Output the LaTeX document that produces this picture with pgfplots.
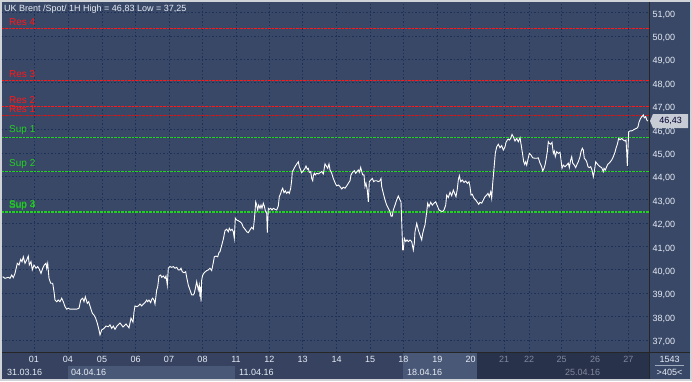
\documentclass[border=0pt]{standalone}
\usepackage{fontspec}
\setmainfont{Liberation Sans}
\usepackage{pgfplots}
\pgfplotsset{compat=1.18}
\definecolor{framec}{HTML}{D0D3D8}
\definecolor{plotbg}{HTML}{3A4867}
\definecolor{gridc}{HTML}{1C3158}
\definecolor{rowbg}{HTML}{36425F}
\definecolor{weekhl}{HTML}{4A5877}
\definecolor{future}{HTML}{29324B}
\definecolor{labeltext}{HTML}{E6ECF5}
\definecolor{dimtext}{HTML}{7F889C}
\definecolor{resred}{HTML}{FF1818}
\definecolor{supgreen}{HTML}{22D022}
\definecolor{pricebox}{HTML}{C8CCD4}
\begin{document}
\begin{tikzpicture}
\useasboundingbox (0pt,0pt) rectangle (692pt,381pt);
\fill[framec] (0pt,0pt) rectangle (692pt,381pt);
\fill[rowbg] (2pt,2pt) rectangle (649pt,29pt);
\fill[weekhl] (68pt,2pt) rectangle (235pt,15pt);
\fill[weekhl] (403pt,2pt) rectangle (477pt,29pt);
\fill[future] (477pt,2pt) rectangle (649pt,29pt);
\fill[plotbg] (649pt,2pt) rectangle (690pt,379pt);
\begin{axis}[
  at={(2pt,29pt)}, anchor=south west,
  width=647pt, height=350pt, scale only axis,
  xmin=2, xmax=649, ymin=36.49, ymax=51.45,
  axis background/.style={fill=plotbg},
  axis line style={draw=none},
  major tick length=0pt,
  grid=major,
  major grid style={gridc, dash pattern=on 1.5pt off 2pt, line width=0.8pt},
  xtick={34,68,102,135.7,169,202.5,236,269.3,302.7,336.7,370,403.3,437.3,470.7},
  xticklabels={01,04,05,06,07,08,11,12,13,14,15,18,19,20},
  extra x ticks={504,529,561.7,595,628.3},
  extra x tick labels={21,22,25,26,27},
  extra x tick style={grid=major, xticklabel style={text=dimtext}},
  xticklabel style={font=\fontsize{9}{9}\selectfont, text=labeltext, anchor=center, yshift=-7pt},
  ytick={37,38,...,51},
  yticklabel pos=right,
  yticklabel style={font=\fontsize{9}{9}\selectfont, text=labeltext, anchor=west, yshift=-2pt,
    /pgf/number format/.cd, fixed, fixed zerofill, precision=2, use comma, 1000 sep={}, assume math mode=true},
  clip=true,
]
% resistance / support levels
\addplot[resred, dash pattern=on 2.5pt off 1pt, line width=1.3pt] coordinates {(2,50.317) (649,50.317)};
\addplot[resred, dash pattern=on 2.5pt off 1pt, line width=1.3pt] coordinates {(2,48.095) (649,48.095)};
\addplot[resred, dash pattern=on 2.5pt off 1pt, line width=1.3pt] coordinates {(2,46.983) (649,46.983)};
\addplot[resred!85!black, dash pattern=on 2.5pt off 1pt, line width=1.1pt] coordinates {(2,46.599) (649,46.599)};
\addplot[supgreen, dash pattern=on 2.5pt off 1pt, line width=1.3pt] coordinates {(2,45.658) (649,45.658)};
\addplot[supgreen, dash pattern=on 2.5pt off 1pt, line width=1.3pt] coordinates {(2,44.205) (649,44.205)};
\addplot[supgreen, dash pattern=on 2.5pt off 1pt, line width=1.3pt] coordinates {(2,42.496) (649,42.496)};
\addplot[supgreen, dash pattern=on 2.5pt off 1pt, line width=1.3pt] coordinates {(2,42.440) (649,42.440)};
% price
\addplot[white, line width=0.9pt] coordinates {
(2.7,39.71) (5,39.64) (8.3,39.68) (10,39.64) (11.7,39.78) (13.3,39.67) (15,39.85) (17.3,40.28) (19,40.21) (20.7,40.45) (22,40.35) (23.3,40.56) (25,40.28) (26.7,40.42) (28.3,40.59) (29.3,40.21) (31,40.35) (32.3,40.00) (34,40.21) (36,40.07) (37.7,40.14) (39.3,40.03) (41,39.85) (42.7,40.07) (44.3,40.21) (46,40.28) (46.7,40.07) (47.7,40.28) (49,39.64) (50.7,39.43) (52.7,39.43) (54,39.07) (55,38.71) (56.7,38.64) (58.3,38.71) (60,38.64) (61.7,38.79) (63.3,38.64) (65,38.43) (66.7,38.32) (68.3,38.36) (70,38.32) (73.3,38.32) (76.7,38.32) (79,38.36) (80.7,38.71) (82.7,38.79) (84,38.64) (85.3,38.85) (87.3,38.57) (88.7,38.64) (90.7,38.36) (92.3,38.15) (94,38.07) (95.7,37.93) (97.3,37.72) (99,37.43) (100,37.22) (101.7,37.43) (104,37.50) (106,37.60) (108.3,37.57) (110,37.65) (111.7,37.50) (113.3,37.60) (115,37.46)
(117,37.60) (120,37.73) (123,37.56) (126,37.69) (129,37.52) (131,37.94) (133,37.77) (134,38.20)
(135,38.46) (136.7,38.43) (138.3,38.46) (140,38.54) (141.7,38.46) (143.3,38.54) (145,38.60) (146.7,38.71) (147.7,38.64) (149,38.71) (150.7,38.60) (151.7,38.74) (152.7,38.79) (154,38.71) (155,38.54) (155.7,38.79) (156.7,39.14) (157.7,39.28) (159,39.74) (160.7,39.78) (161.7,39.68) (163.3,39.74) (165,39.64) (166,39.74) (167.3,39.35) (168.3,40.07) (170,40.14) (171.7,40.11) (173.3,40.14) (175,40.07) (176.7,40.11) (178.3,40.00) (180,40.00) (181,40.07) (182.3,39.92) (184,39.88) (185.7,39.92) (186.7,39.68) (188.3,39.35) (190,39.14) (191.7,38.93) (193.3,38.93) (194.3,39.00) (195.7,39.28) (196.7,39.50) (198.3,39.14) (199.3,39.35) (200,38.85) (200.7,39.28) (201,38.64) (201.7,39.57) (202.7,39.78) (204.3,39.88) (206.7,39.97) (208.3,40.00) (210,40.07) (211.7,39.97) (213.3,40.31) (214.3,40.56) (216,40.59) (217.7,40.56) (219,40.74) (220,40.78)
(223.3,41.31) (225,41.68) (226.7,41.74) (228.3,41.63) (229.3,41.78) (230.7,41.68) (232,41.74) (233.3,41.63) (234.3,41.35) (235.3,42.21) (236.7,42.13) (238.3,42.10) (240,42.06) (241.7,41.99) (243.3,41.82) (245,41.74) (246.7,41.63) (248.3,41.59) (250,41.71) (251.7,41.82) (253.3,41.74) (254.3,42.13) (255,42.49) (255.7,42.91) (256.7,42.77) (257.7,42.56) (258.7,42.77) (260,42.63) (261,42.77) (262,42.63) (263.3,42.85) (264.3,42.73) (265.3,42.53) (266.7,42.42) (267.3,41.59) (268.3,42.63) (269.3,42.59) (270.7,42.63) (272,42.56) (273.3,42.63) (275,42.59) (276.7,42.56) (278.3,42.73) (279.3,43.13) (280.7,43.27) (281.7,43.41) (282.7,43.49) (284,43.30) (285.3,43.38) (286.7,43.27) (288,43.34) (289.3,43.27) (290.7,43.49) (291.7,43.84) (292.3,44.20) (293.3,44.27) (295,44.41) (296,44.48) (297.3,44.56) (298.3,44.62) (299.3,44.41) (300.7,44.27) (301.7,44.15) (303.3,44.24) (305,44.34) (306,44.44) (307.3,44.30) (308.3,44.34) (309.3,44.17) (310.7,44.20) (311.7,43.91) (312.7,43.81) (313.3,44.01) (314.3,44.13) (315.3,44.06) (316.7,44.13) (318.3,44.10) (320,44.15) (321.7,44.20)
(323.3,44.10) (325,44.53) (326.7,44.41) (327.7,44.34) (329,44.53) (330,44.27) (331.7,44.13) (333.3,43.91) (335,43.73) (336.7,43.59) (338.3,43.63) (340,43.56) (341.7,43.46) (343.3,43.53) (345,43.49) (346.7,43.59) (348.3,43.70) (350,43.81) (351,44.06) (352.3,44.15) (354.3,44.24) (355.7,44.13) (357,44.20) (358.3,44.27) (359.3,44.17) (360.7,44.38) (361.7,44.20) (362.7,44.06) (364,44.06) (365,43.56) (366,43.70) (367.3,43.41) (368.3,42.91) (369.3,43.77) (370.7,43.84) (372.3,43.91) (373.7,43.77) (375,43.81) (376.7,43.81) (378.3,43.77) (380,43.81) (381,43.91) (381.7,43.56) (383.3,43.27) (385,42.99) (386.7,42.77) (388.3,42.63) (390,42.49) (391,42.30) (392.3,42.30) (393.3,42.56) (395,42.77) (396.7,42.99) (398.3,43.16) (400,42.99) (401,42.91) (402.7,40.85) (403.3,40.85) (404.3,41.35) (405.7,41.21) (407,41.28) (408.3,41.21) (410,41.28) (411.7,41.21) (413.3,40.85) (414.3,41.14) (415,41.63) (416.7,41.99) (418.3,41.71) (420,41.49) (421.7,41.28) (422.7,41.56) (424,41.78) (425,41.92) (426.7,42.49) (427.7,42.85)
(429,42.70) (430.7,42.89) (432.3,42.77) (434,42.85) (435.7,42.91) (437.3,42.74) (439,42.56) (440.7,42.52) (442.3,42.49) (444,42.56) (445.7,42.77) (446.7,43.20) (448.3,43.09) (450,43.32) (451.7,43.17) (453.3,43.41) (455,43.23) (456,43.13) (457.3,43.46) (458.3,43.84) (459.3,44.03) (460.7,43.77) (462.3,43.84) (464,43.74) (465.7,43.80) (467.3,43.70) (469,43.77) (470,43.56) (471,43.20) (472.3,43.23) (474,43.06) (475.7,42.99) (477.3,42.89) (478.7,42.80) (480,42.89) (481.7,42.85) (483.3,42.99) (485,43.13) (486.7,43.20) (488,43.27) (489.3,43.13) (490.7,43.34) (491.7,43.06) (492.7,43.70) (494,44.34) (495.3,44.98) (496.7,45.26) (498.3,45.37) (500,45.22) (501.7,45.31) (503.3,45.12) (505,45.26) (506,45.45) (507.3,45.55) (508.3,45.59) (509.3,45.55) (510.7,45.62) (512,45.79) (513.3,45.69) (515,45.51) (516.7,45.62) (518.3,45.48) (520,45.65) (521.7,45.20) (522.7,44.91) (523.7,44.62) (524.7,44.51) (525.7,44.62) (526.7,44.48) (528.3,44.79) (529.3,44.98) (531,44.91) (532.7,44.79) (535,44.77)
(536.7,44.77) (538.3,44.79) (540,44.56) (541.7,44.41) (542.7,44.23) (544,44.34) (545,44.48) (546,44.70) (547.3,45.05) (548.3,45.48) (549.3,45.41) (550.7,45.37) (552,45.45) (553.3,44.98) (554.3,45.08) (555.3,44.84) (556.7,45.05) (558.3,44.98) (560,45.03) (561,44.70) (562,44.34) (563.3,44.48) (565,44.41) (566.7,44.48) (568.3,44.56) (569.3,44.37) (570.7,44.70) (571.7,44.84) (572.7,44.56) (574.3,44.48) (575.7,44.37) (576.7,44.48) (578.3,44.62) (580,44.84) (581,45.05) (582.3,45.20) (583.3,45.12) (584.3,44.77) (585.7,44.70) (586.7,44.62) (588,44.41) (589.3,44.37) (590.7,44.41) (592,44.27) (593.3,43.98) (594.3,44.20) (595.7,44.62) (596.7,44.56) (598.3,44.48) (600,44.41) (601.7,44.37) (603.3,44.20) (604,44.34) (605.3,44.27) (606.7,44.41) (607.7,44.51) (609,44.56) (610.3,44.62) (611.7,44.70) (613.3,44.84) (615,45.03) (616,45.20) (617.3,45.37) (618.7,45.62) (620,45.56) (621.7,45.62) (623.3,45.55) (625,45.51) (626,45.55) (626.7,45.05) (627.3,44.45) (628,45.20) (628.7,45.91) (630,45.94) (631.7,45.94) (633.3,45.98) (635,46.02) (636.7,46.05) (638,46.12) (639,46.31) (640.3,46.45) (641.7,46.55) (642.7,46.59) (643.3,46.62) (644.3,46.50) (645.7,46.55) (646.7,46.41) (647.7,46.36)
};
% level labels
\begin{scope}[every node/.style={anchor=south west, inner sep=0pt, font=\fontsize{10}{10}\selectfont}]
\node[text=resred] at (axis cs:9,50.317) [yshift=2.5pt] {Res 4};
\node[text=resred] at (axis cs:9,48.095) [yshift=2.5pt] {Res 3};
\node[text=resred] at (axis cs:9,46.983) [yshift=3pt] {Res 2};
\node[text=resred] at (axis cs:9,46.599) [yshift=3pt] {Res 1};
\node[text=supgreen] at (axis cs:9,45.658) [yshift=3pt] {Sup 1};
\node[text=supgreen] at (axis cs:9,44.205) [yshift=3pt] {Sup 2};
\node[text=supgreen] at (axis cs:9,42.496) [yshift=2pt] {Sup 3};
\node[text=supgreen] at (axis cs:9,42.440) [yshift=2pt] {Sup 4};
\end{scope}
\node[anchor=north west, inner sep=0pt, text=labeltext, font=\fontsize{9}{9}\selectfont] at (rel axis cs:0,1) [xshift=2pt, yshift=-2.5pt] {UK Brent /Spot/ 1H High = 46,83 Low = 37,25};
\end{axis}
% separators
\draw[black!85, line width=0.8pt] (649pt,2pt) -- (649pt,379pt);
\draw[black!85, line width=0.8pt] (2pt,29pt) -- (690pt,29pt);
% week labels
\begin{scope}[every node/.style={anchor=west, inner sep=0pt, font=\fontsize{9}{9}\selectfont, text=labeltext}]
\node at (7pt,8.5pt) {31.03.16};
\node at (71pt,8.5pt) {04.04.16};
\node at (239pt,8.5pt) {11.04.16};
\node at (407pt,8.5pt) {18.04.16};
\node[text=dimtext] at (565pt,8.5pt) {25.04.16};
\end{scope}
% last price marker
\fill[pricebox] (650pt,260pt) -- (653pt,267pt) -- (688pt,267pt) -- (688pt,253pt) -- (653pt,253pt) -- cycle;
\node[anchor=center, inner sep=0pt, text=black!80!blue, font=\fontsize{9}{9}\selectfont] at (670.5pt,260pt) {46,43};
% counters
\node[text=labeltext, font=\fontsize{9}{9}\selectfont, inner sep=0pt] at (669.5pt,21.5pt) {1543};
\draw[labeltext!60!plotbg, line width=0.6pt] (655pt,16pt) -- (684pt,16pt);
\node[text=labeltext, font=\fontsize{9}{9}\selectfont, inner sep=0pt] at (669.5pt,8.5pt) {>405<};
\end{tikzpicture}
\end{document}
